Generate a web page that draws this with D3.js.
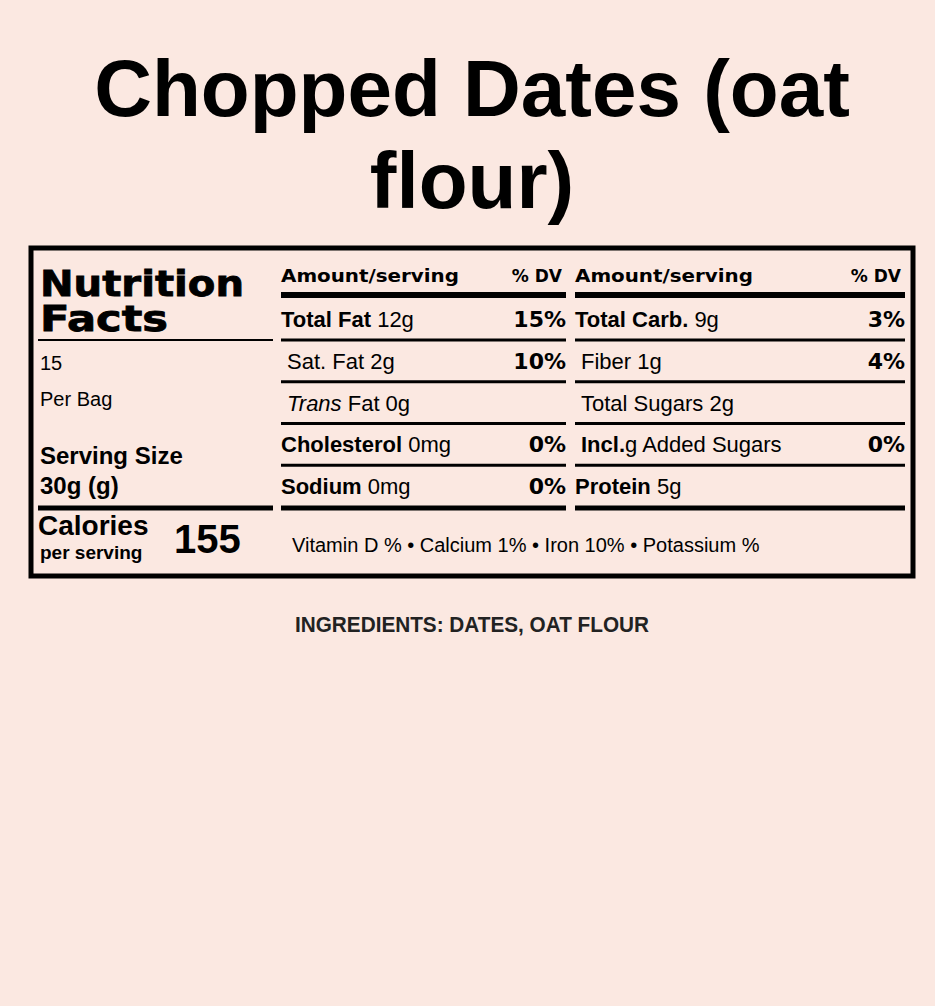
<!DOCTYPE html>
<html><head><meta charset="utf-8">
<script src="https://cdn.jsdelivr.net/npm/d3@7"></script>
<style>body{margin:0;background:#fbe8e1}</style>
</head><body><div id="label"></div>
<script>
var titleLines = ["Chopped Dates (oat", "flour)"];
var leftRows = [
  {bold: "Total Fat", text: " 12g", dv: "15%", indent: false},
  {bold: "", text: "Sat. Fat 2g", dv: "10%", indent: true},
  {bold: "", text: "Fat 0g", italic: "Trans", dv: "", indent: true},
  {bold: "Cholesterol", text: " 0mg", dv: "0%", indent: false},
  {bold: "Sodium", text: " 0mg", dv: "0%", indent: false}
];
var rightRows = [
  {bold: "Total Carb.", text: " 9g", dv: "3%", indent: false},
  {bold: "", text: "Fiber 1g", dv: "4%", indent: true},
  {bold: "", text: "Total Sugars 2g", dv: "", indent: true},
  {bold: "Incl.", text: "g Added Sugars", dv: "0%", indent: true},
  {bold: "Protein", text: " 5g", dv: "", indent: false}
];
var servings = "15", perText = "Per Bag", servingSize = "30g (g)", calories = "155";
var vitamins = "Vitamin D % \u2022 Calcium 1% \u2022 Iron 10% \u2022 Potassium %";
var ingredients = "INGREDIENTS: DATES, OAT FLOUR";

var W = 935, H = 1006;
var svg = d3.select("#label").append("svg").attr("width", W).attr("height", H);
svg.append("rect").attr("width", W).attr("height", H).attr("fill", "#fbe8e1");

var heavy = "'Liberation Sans', Arial, sans-serif";
var wide = "'DejaVu Sans', sans-serif";
var narrow = "'Liberation Sans Narrow', 'Liberation Sans', sans-serif";

svg.selectAll("text.title").data(titleLines).enter().append("text")
  .attr("class", "title")
  .attr("x", 472).attr("y", (d, i) => 116 + i * 92)
  .attr("text-anchor", "middle")
  .attr("font-family", narrow).attr("font-weight", "bold").attr("font-size", 80)
  .text(d => d);

svg.append("rect").attr("x", 31).attr("y", 248).attr("width", 882).attr("height", 328)
  .attr("fill", "none").attr("stroke", "#000").attr("stroke-width", 5);

function txt(x, y, s, size, weight, anchor, fam) {
  return svg.append("text").attr("x", x).attr("y", y).attr("font-family", fam || heavy)
    .attr("font-size", size).attr("font-weight", weight || "normal")
    .attr("text-anchor", anchor || "start").text(s);
}
function line(x1, x2, y, w) {
  svg.append("line").attr("x1", x1).attr("x2", x2).attr("y1", y).attr("y2", y)
    .attr("stroke", "#000").attr("stroke-width", w);
}

// left block
txt(40, 296, "Nutrition", 35, "bold", "start", wide).attr("textLength", 204)
  .attr("lengthAdjust", "spacingAndGlyphs").attr("stroke", "#000").attr("stroke-width", 0.8);
txt(40, 331, "Facts", 35, "bold", "start", wide).attr("textLength", 128)
  .attr("lengthAdjust", "spacingAndGlyphs").attr("stroke", "#000").attr("stroke-width", 0.8);
line(38, 273, 340, 2);
txt(40, 370, servings, 20);
txt(40, 406, perText, 20);
txt(40, 464, "Serving Size", 24, "bold");
txt(40, 494, servingSize, 24, "bold");
line(38, 273, 508, 5);
txt(38, 535, "Calories", 28, "bold");
txt(40, 559, "per serving", 19, "bold");
txt(174, 553, calories, 40, "bold");

// nutrient columns
var rowY = d3.scaleLinear().domain([0, 4]).range([327, 494]);
function column(x0, x1, rows) {
  txt(x0, 282, "Amount/serving", 17, "bold", "start", wide).attr("textLength", 178)
    .attr("lengthAdjust", "spacingAndGlyphs");
  txt(x1 - 4, 282, "% DV", 17, "bold", "end", wide);
  line(x0, x1, 295, 6);
  rows.forEach(function (r, i) {
    var y = rowY(i);
    var t = svg.append("text").attr("x", x0 + (r.indent ? 6 : 0)).attr("y", y)
      .attr("font-family", heavy).attr("font-size", 22);
    if (r.bold) t.append("tspan").attr("font-weight", "bold").text(r.bold);
    if (r.italic) t.append("tspan").attr("font-style", "italic").text(r.italic + " ");
    t.append("tspan").text(r.text);
    if (r.dv) txt(x1, y, r.dv, 22, "bold", "end", wide);
    if (i < rows.length - 1) line(x0, x1, y + 13, 3);
  });
  line(x0, x1, 508, 5);
}
column(281, 566, leftRows);
column(575, 905, rightRows);

txt(292, 552, vitamins, 20);
svg.append("text").attr("x", 472).attr("y", 632).attr("text-anchor", "middle")
  .attr("font-family", narrow).attr("font-size", 22).attr("font-weight", "bold")
  .attr("fill", "#222").attr("textLength", 354).attr("lengthAdjust", "spacingAndGlyphs")
  .text(ingredients);
</script></body></html>
